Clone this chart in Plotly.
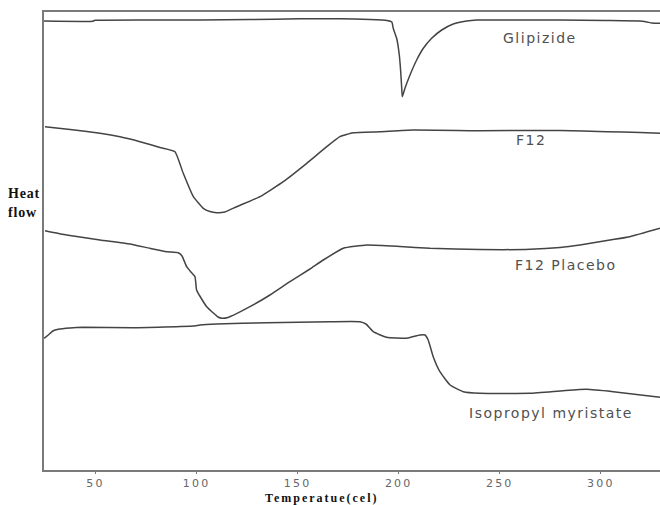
import plotly.graph_objects as go

# DSC thermograms: temperature (°C) vs heat flow (arbitrary units, curves offset)
glipizide_t = [24.5, 48.7, 49.7, 101.7, 126.4, 151.1, 170.9, 185.8, 194.2, 196.6,
               197.3, 199.0, 200.3, 201.0, 201.5, 201.8, 203.1, 205.6, 208.9, 212.2,
               216.3, 221.3, 227.0, 233.6, 238.6, 250.1, 279.8, 302.6, 319.4, 322.8,
               325.3, 329.3]
glipizide_hf = [44.90, 44.88, 44.97, 45.00, 45.05, 45.12, 45.12, 45.05, 44.95, 44.80,
                44.17, 43.17, 41.50, 39.83, 38.17, 37.33, 38.17, 39.50, 41.00, 42.17,
                43.17, 44.00, 44.60, 44.90, 45.00, 45.00, 45.00, 44.95, 44.90, 44.80,
                44.70, 44.67]

f12_t = [25.0, 37.4, 52.2, 62.1, 72.0, 81.9, 89.3, 93.4, 98.4, 103.3, 106.6, 109.9,
         114.0, 119.8, 131.4, 142.9, 154.5, 164.4, 170.9, 177.5, 190.7, 207.1, 240.2,
         279.8, 302.9, 319.4, 329.3]
f12_hf = [34.33, 34.05, 33.67, 33.32, 32.83, 32.25, 31.83, 29.67, 27.33, 26.17, 25.85,
          25.73, 25.80, 26.33, 27.33, 28.83, 30.67, 32.33, 33.33, 33.73, 33.83, 34.00,
          33.93, 33.95, 33.83, 33.75, 33.67]

placebo_t = [25.0, 35.7, 52.2, 67.0, 76.9, 85.2, 90.9, 92.8, 95.1, 97.2, 99.2, 100.0,
             101.6, 105.0, 108.3, 110.6, 112.6, 115.5, 126.4, 136.3, 146.2, 156.1,
             162.7, 172.6, 184.2, 200.6, 215.5, 240.2, 265.0, 279.8, 289.7, 304.5,
             314.4, 329.3]
placebo_hf = [23.93, 23.50, 23.00, 22.60, 22.17, 21.83, 21.73, 21.40, 20.33, 19.80,
              19.33, 18.00, 17.40, 16.33, 15.70, 15.30, 15.17, 15.25, 16.33, 17.50,
              18.83, 20.10, 21.00, 22.17, 22.50, 22.35, 22.17, 22.05, 22.07, 22.25,
              22.50, 23.00, 23.33, 24.17]

ipm_t = [24.6, 26.6, 28.9, 31.6, 37.3, 43.9, 68.5, 98.4, 101.7, 109.9, 134.7, 166.0,
         180.8, 183.8, 187.4, 194.0, 203.9, 210.5, 213.0, 214.6, 217.1, 220.4, 225.4,
         232.0, 240.2, 265.0, 281.4, 293.0, 306.2, 329.3]
ipm_hf = [13.17, 13.50, 13.90, 14.07, 14.20, 14.27, 14.23, 14.40, 14.50, 14.60, 14.73,
          14.83, 14.83, 14.60, 13.83, 13.27, 13.17, 13.50, 13.50, 13.00, 11.33, 9.83,
          8.50, 7.83, 7.67, 7.67, 7.93, 8.07, 7.83, 7.27]

series = [
    ("Glipizide", glipizide_t, glipizide_hf),
    ("F12", f12_t, f12_hf),
    ("F12 Placebo", placebo_t, placebo_hf),
    ("Isopropyl myristate", ipm_t, ipm_hf),
]

# label anchor points (temperature, heat flow)
label_names = ["Glipizide", "F12", "F12 Placebo", "Isopropyl myristate"]
label_t = [269.9, 265.5, 282.8, 275.3]
label_hf = [43.23, 33.0, 20.5, 5.7]

tick_vals = [50, 100, 150, 200, 250, 300]
tick_text = [str(v) for v in tick_vals]

CURVE = "#444444"
AXIS = "#7a7a7a"


def spaced(text, px):
    return f'<span style="letter-spacing:{px}px">{text}</span>'


fig = go.Figure()
for name, t, hf in series:
    fig.add_trace(go.Scatter(
        x=t, y=hf, mode="lines", name=name,
        line=dict(color=CURVE, width=1.5, shape="spline", smoothing=0.4),
        hoverinfo="skip",
    ))

annotations = []
for name, t, hf in zip(label_names, label_t, label_hf):
    annotations.append(dict(
        x=t, y=hf, xref="x", yref="y", text=spaced(name, 1.5), showarrow=False,
        xanchor="center", yanchor="middle",
        font=dict(family="DejaVu Sans", size=14, color="#505050"),
    ))

serif_bold = dict(family="Liberation Serif", size=14, color="#111111", weight="bold")
annotations.append(dict(
    x=-0.0615, y=0.6048, xref="paper", yref="paper", text=spaced("Heat", 0.8),
    showarrow=False, xanchor="left", yanchor="middle", font=serif_bold,
))
annotations.append(dict(
    x=-0.0615, y=0.5633, xref="paper", yref="paper", text=spaced("flow", 0.8),
    showarrow=False, xanchor="left", yanchor="middle", font=serif_bold,
))
annotations.append(dict(
    x=162.0, y=-0.0620, xref="x", yref="paper", text=spaced("Temperatue(cel)", 2.0),
    showarrow=False, xanchor="center", yanchor="middle", borderpad=0,
    font=dict(family="Liberation Serif", size=12, color="#111111", weight="bold"),
))

fig.update_layout(
    width=660, height=505,
    margin=dict(l=44, r=0, t=12, b=35, pad=0),
    paper_bgcolor="white", plot_bgcolor="white",
    showlegend=False,
    annotations=annotations,
    xaxis=dict(
        range=[24.5, 329.3], showgrid=False, zeroline=False,
        showline=True, linecolor=AXIS, linewidth=2, mirror=True,
        ticks="outside", ticklen=2, tickcolor=AXIS, tickwidth=1,
        tickvals=tick_vals, ticktext=[spaced(s, 2.2) for s in tick_text],
        tickfont=dict(family="DejaVu Sans", size=11, color="#666666"),
        ticklabelstandoff=0,
    ),
    yaxis=dict(
        range=[0, 45.8], showgrid=False, zeroline=False,
        showline=True, linecolor=AXIS, linewidth=2, mirror=False,
        showticklabels=False, ticks="",
    ),
)

fig.write_html("out.html")
